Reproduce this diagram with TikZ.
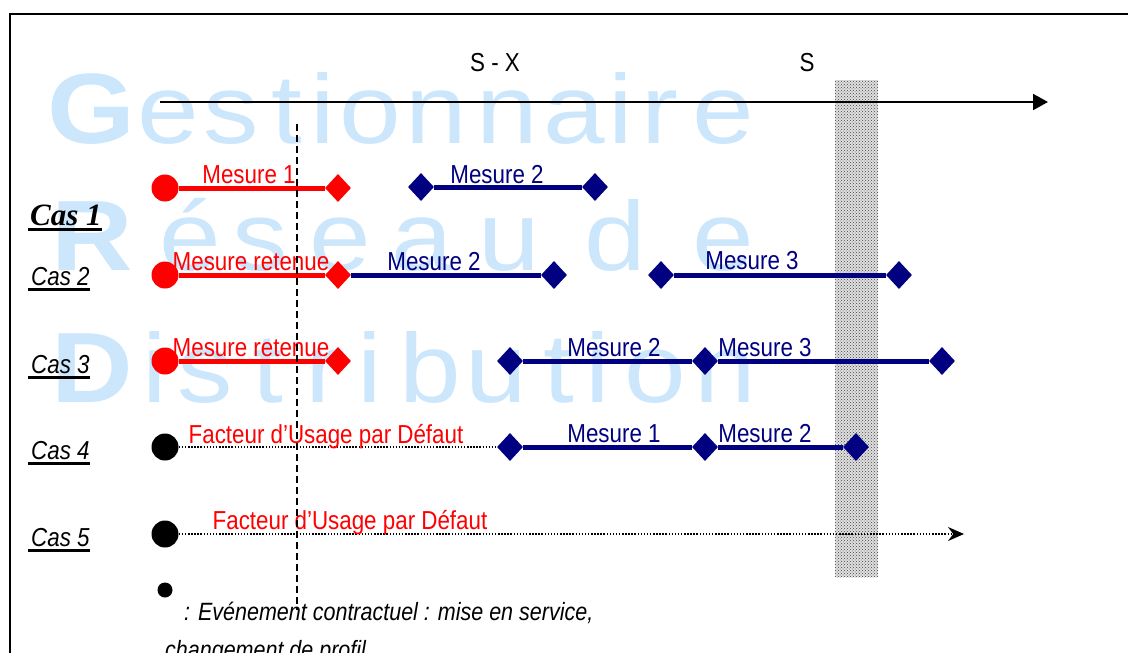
\documentclass[tikz,border=0pt]{standalone}
\usepackage{fontspec}
\setmainfont{Liberation Sans}
\newfontfamily\nar[FakeStretch=0.86]{Liberation Sans}
\newfontfamily\wmf[FakeStretch=1.13]{Liberation Sans}
\newfontfamily\tnr{Liberation Serif}
\usetikzlibrary{shapes.geometric,arrows.meta,patterns}
\definecolor{wm}{RGB}{204,230,252}
\definecolor{mnavy}{RGB}{0,0,128}
\definecolor{mred}{RGB}{255,0,0}
\begin{document}
\begin{tikzpicture}[x=1pt,y=-1pt,
 wmL/.style={text=wm,inner sep=0,anchor=base,font=\wmf\fontsize{98}{100}\selectfont},
 wmC/.style={text=wm,inner sep=0,anchor=base,font=\wmf\bfseries\fontsize{100}{100}\selectfont},
 lbl/.style={inner sep=0,anchor=base,font=\nar\fontsize{26}{30}\selectfont},
 caslbl/.style={inner sep=0,anchor=base west,font=\nar\itshape\fontsize{26}{30}\selectfont},
 uline/.style={line width=2.5pt},
 evdot/.style={circle,fill,inner sep=0,minimum size=27pt},
 mdia/.style={diamond,fill,inner sep=0,minimum width=26pt,minimum height=28pt},
 mseg/.style={line width=5pt},
 dotln/.style={line width=1.5pt,dash pattern=on 1.5pt off 1.6pt}
]
\useasboundingbox (0,0) rectangle (1128,653);
\clip (0,0) rectangle (1128,653);

% watermark
\node[wmC] (wG) at (91,143) {G};
\foreach \c/\x [count=\i] in {e/168,s/231,t/287,i/323,o/370,n/436,n/507,a/574,i/621,r/660,e/723}
  \node[wmL] (wg\i) at (\x,143) {\c};
\node[wmC] (wR) at (92,270) {R};
\foreach \c/\x [count=\i] in {é/190,s/260,e/340,a/422,u/509,d/615,e/723}
  \node[wmL] (wr\i) at (\x,270) {\c};
\node[wmC] (wD) at (92,402) {D};
\foreach \c/\x [count=\i] in {i/155,s/205,t/268,r/324,i/370,b/430,u/496,t/559,i/598,o/655,n/725}
  \node[wmL] (wd\i) at (\x,402) {\c};

% frame
\draw[line width=2pt] (10,653) -- (10,14) -- (1128,14);

% shaded band at S
\fill[black!12] (835,80) rectangle (878,577);
\fill[pattern=crosshatch dots,pattern color=black!75] (835,80) rectangle (878,577);

% time axis
\coordinate (ax0) at (160,102);
\coordinate (ax1) at (1048,102);
\draw[line width=2pt,-{Triangle[length=15pt,width=16pt]}] (ax0) -- (ax1);
\node[lbl] (sx) at (495,71) {S - X};
\node[lbl] (s) at (807,71) {S};

% case labels
\node[inner sep=0,anchor=base west,font=\tnr\bfseries\itshape\fontsize{31}{34}\selectfont] (c1) at (30,225) {Cas 1};
\draw[line width=3pt] ([xshift=-2pt,yshift=-4pt]c1.base west) -- ([yshift=-4pt]c1.base east);
\node[caslbl] (c2) at (31,285) {Cas 2};
\node[caslbl] (c3) at (31,373) {Cas 3};
\node[caslbl] (c4) at (31,459) {Cas 4};
\node[caslbl] (c5) at (31,546) {Cas 5};
\foreach \n in {c2,c3,c4,c5}
  \draw[uline] ([xshift=-3pt,yshift=-4.5pt]\n.base west) -- ([yshift=-4.5pt]\n.base east);

% Cas 1
\node[evdot,mred] (r1a) at (165,188) {};
\node[mdia,mred] (r1b) at (338,188) {};
\draw[mseg,mred] (r1a) -- (r1b);
\node[mdia,mnavy] (b1a) at (421,187) {};
\node[mdia,mnavy] (b1b) at (595,187) {};
\draw[mseg,mnavy] (b1a) -- (b1b);
\node[lbl,text=mred] (t1a) at (249,183) {Mesure 1};
\node[lbl,text=mnavy] (t1b) at (497,183) {Mesure 2};

% Cas 2
\node[evdot,mred] (r2a) at (165,275) {};
\node[mdia,mred] (r2b) at (338,275) {};
\draw[mseg,mred] (r2a) -- (r2b);
\node[mdia,mnavy] (b2a) at (554,275) {};
\node[mdia,mnavy] (b2b) at (661,275) {};
\node[mdia,mnavy] (b2c) at (899,275) {};
\draw[mseg,mnavy] (r2b) -- (b2a);
\draw[mseg,mnavy] (b2b) -- (b2c);
\node[lbl,text=mred] (t2a) at (251,270) {Mesure retenue};
\node[lbl,text=mnavy] (t2b) at (434,270) {Mesure 2};
\node[lbl,text=mnavy] (t2c) at (752,269) {Mesure 3};

% Cas 3
\node[evdot,mred] (r3a) at (165,361) {};
\node[mdia,mred] (r3b) at (338,361) {};
\draw[mseg,mred] (r3a) -- (r3b);
\node[mdia,mnavy] (b3a) at (510,361) {};
\node[mdia,mnavy] (b3b) at (705,361) {};
\node[mdia,mnavy] (b3c) at (942,361) {};
\draw[mseg,mnavy] (b3a) -- (b3b);
\draw[mseg,mnavy] (b3b) -- (b3c);
\node[lbl,text=mred] (t3a) at (251,356) {Mesure retenue};
\node[lbl,text=mnavy] (t3b) at (614,356) {Mesure 2};
\node[lbl,text=mnavy] (t3c) at (765,356) {Mesure 3};

% Cas 4
\node[evdot,black] (k4) at (165,447) {};
\node[mdia,mnavy] (b4a) at (510,447) {};
\node[mdia,mnavy] (b4b) at (705,447) {};
\node[mdia,mnavy] (b4c) at (856,447) {};
\draw[dotln] (k4) -- (b4a);
\draw[mseg,mnavy] (b4a) -- (b4b);
\draw[mseg,mnavy] (b4b) -- (b4c);
\node[lbl,text=mred] (t4a) at (326,443) {Facteur d’Usage par Défaut};
\node[lbl,text=mnavy] (t4b) at (614,442) {Mesure 1};
\node[lbl,text=mnavy] (t4c) at (765,442) {Mesure 2};

% Cas 5
\node[evdot,black] (k5) at (165,534) {};
\coordinate (e5) at (964,534);
\draw[dotln,-{Stealth[length=16pt,width=14pt]}] (k5) -- (e5);
\node[lbl,text=mred] (t5a) at (350,529) {Facteur d’Usage par Défaut};

% legend
\node[circle,fill,inner sep=0,minimum size=15pt] (lg) at (165,590) {};
\node[inner sep=0,anchor=base west,font=\nar\itshape\fontsize{25}{28}\selectfont] (lt1) at (184,620) {: Evénement contractuel : mise en service,};
\node[inner sep=0,anchor=base west,font=\nar\itshape\fontsize{25}{28}\selectfont] (lt2) at (165,658) {changement de profil …};

% S-X dashed marker
\coordinate (d0) at (297,124);
\coordinate (d1) at (297,610);
\draw[line width=1.6pt,dash pattern=on 7pt off 4pt] (d0) -- (d1);
\end{tikzpicture}
\end{document}
